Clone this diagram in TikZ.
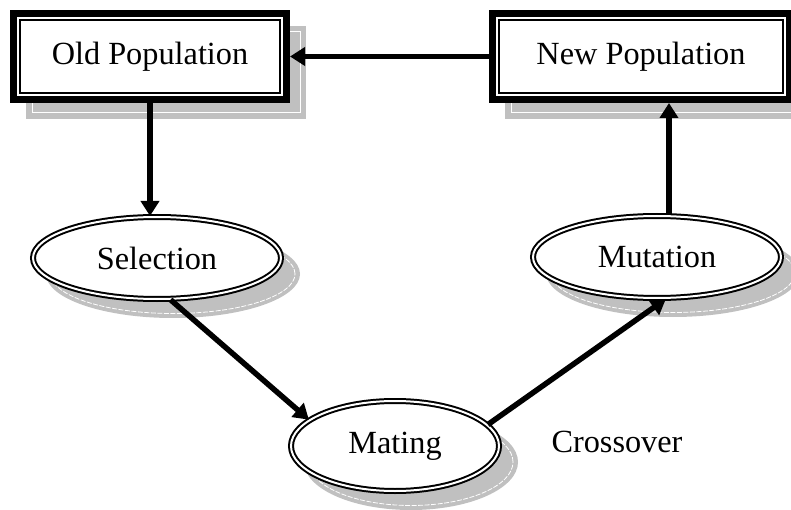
\documentclass[tikz,border=0pt]{standalone}
\usepackage{fontspec}
\setmainfont{Liberation Serif}
\usetikzlibrary{shapes.geometric,arrows.meta,backgrounds}

\definecolor{shadowgray}{HTML}{C0C0C0}
\newcommand\diagfont{\fontsize{32.3}{37}\selectfont}

\tikzset{
  popbox/.style={draw, line width=7pt, fill=white, inner sep=0pt, font=\diagfont},
  innerframe/.style={draw, line width=1.5pt},
  opnode/.style={ellipse, draw, fill=white, line width=2pt, double, double distance=2pt,
                 inner sep=0pt, font=\diagfont},
  flow/.style={line width=5.5pt, -{Triangle[length=15pt,width=18pt]}},
  boxshadow/.style={fill=shadowgray},
  shadowline/.style={draw=white, line width=1pt},
  ovalshadowline/.style={draw=white, line width=0.8pt, dash pattern=on 5pt off 1.5pt},
}

\begin{document}
\begin{tikzpicture}[x=1pt, y=-1pt]
  \useasboundingbox (0,0) rectangle (791,510);

  % population boxes
  \node[popbox, minimum width=273pt, minimum height=86pt] (old) at (150,56.5) {Old Population};
  \node[popbox, minimum width=297pt, minimum height=86pt] (new) at (641,56.5) {New Population};
  \foreach \b in {old,new}
    \draw[innerframe] ([xshift=10pt,yshift=-10pt]\b.north west) rectangle ([xshift=-10pt,yshift=10pt]\b.south east);

  % genetic operators
  \node[opnode, minimum width=248pt, minimum height=82pt] (sel) at (157,258) {Selection};
  \node[opnode, minimum width=248pt, minimum height=82pt] (mut) at (657,257) {Mutation};
  \node[opnode, minimum width=208pt, minimum height=90pt] (mat) at (395,446) {Mating};

  \node[font=\diagfont, anchor=base] (cross) at (617,452) {Crossover};

  % drop shadows
  \begin{scope}[on background layer]
    \foreach \b in {old,new} {
      \fill[boxshadow] ([xshift=16pt,yshift=-16pt]\b.north west) rectangle ([xshift=16pt,yshift=-16pt]\b.south east);
      \draw[shadowline] ([xshift=22pt,yshift=-22pt]\b.north west) rectangle ([xshift=10pt,yshift=-10pt]\b.south east);
    }
    \fill[boxshadow] ([xshift=16pt,yshift=-16pt]sel.center) ellipse [x radius=127pt, y radius=44pt];
    \draw[ovalshadowline] ([xshift=16pt,yshift=-16pt]sel.center) ellipse [x radius=122pt, y radius=39.5pt];
    \fill[boxshadow] ([xshift=16pt,yshift=-16pt]mut.center) ellipse [x radius=127pt, y radius=44pt];
    \draw[ovalshadowline] ([xshift=16pt,yshift=-16pt]mut.center) ellipse [x radius=122pt, y radius=39.5pt];
    \fill[boxshadow] ([xshift=16pt,yshift=-16pt]mat.center) ellipse [x radius=107pt, y radius=48pt];
    \draw[ovalshadowline] ([xshift=16pt,yshift=-16pt]mat.center) ellipse [x radius=102pt, y radius=43.5pt];
  \end{scope}

  % flow of the cycle
  \draw[flow] (new.west) -- (old.east);
  \draw[flow] (old.south) -- (old.south |- sel.north);
  \draw[flow] (sel.-72) -- (mat.163);
  \draw[flow] (mat.13) -- (mut.-78);
  \draw[flow] (mut.74) -- (mut.74 |- new.south);
\end{tikzpicture}
\end{document}
